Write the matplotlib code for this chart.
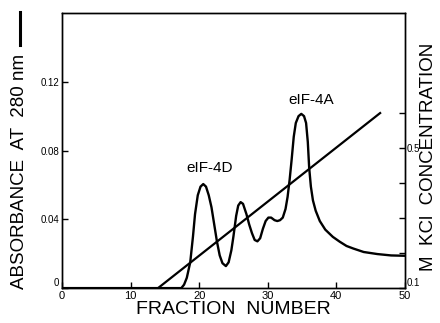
"""
复刻图表：eIF-4D / eIF-4A 洗脱曲线（吸光度 + KCl 梯度）
"""
import matplotlib
matplotlib.use('Agg')
import matplotlib.pyplot as plt
from matplotlib.lines import Line2D

plt.rcParams['font.family'] = ['Liberation Sans', 'DejaVu Sans']

# 吸光度曲线
fraction = [0, 17.4, 17.8, 18.2, 18.7, 19.1, 19.4, 19.8, 20.2, 20.6, 21.0, 21.4,
            21.8, 22.2, 22.6, 23.0, 23.4, 23.9, 24.3, 24.7, 25.0, 25.4, 25.7,
            26.05, 26.4, 26.9, 27.3, 27.7, 28.1, 28.5, 28.9, 29.3, 29.7, 30.1,
            30.5, 31.0, 31.4, 31.8, 32.2, 32.6, 32.9, 33.2, 33.5, 33.8, 34.1,
            34.5, 34.9, 35.3, 35.6, 35.85, 36.05, 36.3, 36.6, 37.0, 37.6, 38.4,
            39.5, 40.5, 41.5, 42.5, 44.0, 46.0, 48.0, 50.0]
absorbance = [0, 0, 0.002, 0.006, 0.015, 0.030, 0.043, 0.054, 0.059, 0.0605,
              0.059, 0.054, 0.047, 0.037, 0.027, 0.019, 0.0145, 0.0128, 0.015,
              0.022, 0.030, 0.042, 0.048, 0.050, 0.049, 0.043, 0.037, 0.032,
              0.028, 0.0272, 0.029, 0.0345, 0.039, 0.041, 0.041, 0.0395, 0.039,
              0.0395, 0.041, 0.046, 0.053, 0.063, 0.075, 0.088, 0.096, 0.100,
              0.1013, 0.100, 0.096, 0.085, 0.070, 0.059, 0.051, 0.045, 0.039,
              0.034, 0.0298, 0.027, 0.0245, 0.023, 0.021, 0.0198, 0.019, 0.0188]

# KCl 梯度（右轴）
kcl_fraction = [14, 46.4]
kcl_conc = [0.1, 0.6]

# 刻度
x_ticks = [0, 10, 20, 30, 40, 50]
y_ticks = [0, 0.04, 0.08, 0.12]
y_tick_labels = ['0', '0.04', '0.08', '0.12']
right_ticks = [0.1, 0.2, 0.3, 0.4, 0.5, 0.6]
right_tick_labels = ['0.1', '', '', '', '0.5', '']

fig = plt.figure(figsize=(4.4, 3.23), dpi=100)
ax = fig.add_axes([0.141, 0.108, 0.779, 0.852])

ax.plot(fraction, absorbance, color='black', lw=1.7, solid_joinstyle='round')
ax.set_xlim(0, 50)
ax.set_ylim(0, 0.16)
ax.set_xticks(x_ticks)
ax.set_xticklabels([str(t) for t in x_ticks], fontsize=8)
ax.set_yticks(y_ticks)
ax.set_yticklabels(y_tick_labels, fontsize=7)
ax.tick_params(direction='in', length=4, width=1, pad=2)
ax.get_yticklabels()[0].set_va('bottom')
for sp in ax.spines.values():
    sp.set_linewidth(1.0)

ax.text(21.6, 0.070, 'eIF-4D', fontsize=11, ha='center', va='center')
ax.text(36.3, 0.1096, 'eIF-4A', fontsize=11, ha='center', va='center')

ax.set_xlabel('FRACTION  NUMBER', fontsize=14, labelpad=0)

# 右轴：KCl 浓度
ax2 = ax.twinx()
ax2.plot(kcl_fraction, kcl_conc, color='black', lw=1.6)
ax2.set_ylim(0.1, 0.886)
ax2.set_yticks(right_ticks)
ax2.set_yticklabels(right_tick_labels, fontsize=7)
ax2.tick_params(direction='in', length=4, width=1, pad=1)
ax2.get_yticklabels()[0].set_va('bottom')
for sp in ax2.spines.values():
    sp.set_linewidth(1.0)

# 轴标题
fig.text(20 / 440, 0.47, 'ABSORBANCE  AT  280 nm', rotation=90,
         fontsize=13.5, ha='center', va='center')
fig.add_artist(Line2D([20 / 440, 20 / 440], [1 - 45 / 323, 1 - 12 / 323],
                      color='black', lw=2.2))
fig.text(428 / 440, 0.514, 'M  KCl  CONCENTRATION', rotation=90,
         fontsize=13.5, ha='center', va='center')

plt.savefig('out.png', dpi=100)
